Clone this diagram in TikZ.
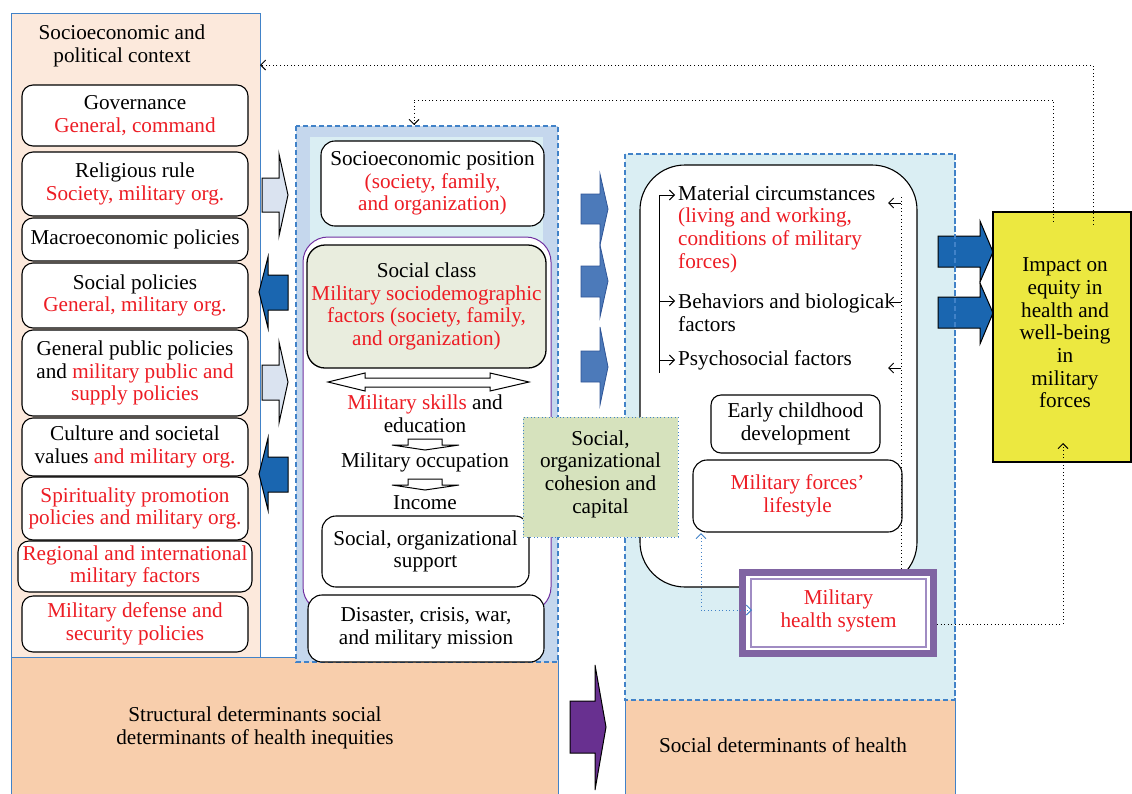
\documentclass[tikz,border=0pt]{standalone}
\usepackage{fontspec}
\setmainfont{Liberation Serif}
\usetikzlibrary{arrows.meta}
\definecolor{myred}{RGB}{237,28,36}
\definecolor{lpeach}{RGB}{252,233,220}
\definecolor{dpeach}{RGB}{248,206,172}
\definecolor{mblue}{RGB}{197,215,237}
\definecolor{lblue}{RGB}{218,238,243}
\definecolor{sgreen}{RGB}{233,237,222}
\definecolor{cgreen}{RGB}{214,226,189}
\definecolor{yel}{RGB}{236,232,64}
\definecolor{dblue}{RGB}{26,102,176}
\definecolor{marrow}{RGB}{76,122,186}
\definecolor{marrowb}{RGB}{47,85,151}
\definecolor{larrow}{RGB}{218,227,240}
\definecolor{parrow}{RGB}{104,48,144}
\definecolor{hpurp}{RGB}{128,100,162}
\definecolor{hpurpb}{RGB}{160,140,195}
\definecolor{pblue}{RGB}{65,130,200}
\definecolor{purpl}{RGB}{112,48,160}
\begin{document}
\begin{tikzpicture}[x=1pt,y=-1pt,
  font=\fontsize{21.2}{22.7}\selectfont,
  rbox/.style={draw=black, line width=1.1pt, rounded corners=11pt, fill=white, align=center, inner sep=0pt},
  tx/.style={align=center, inner sep=0pt},
  dotc/.style={line width=0.9pt, dash pattern=on 1pt off 2.6pt},
  tip/.style={-{Straight Barb[length=5pt,width=10pt]}},
  tipboth/.style={{Straight Barb[length=5pt,width=10pt]}-{Straight Barb[length=5pt,width=10pt]}},
  blk/.style={draw=black, line width=1pt, line join=miter},
  dpanel/.style={draw=pblue, line width=1.1pt, dash pattern=on 5pt off 3pt},
  rd/.style={text=myred}
]
\useasboundingbox (0,0) rectangle (1132,793);

% ---------- left panel ----------
\draw[draw=pblue, fill=lpeach, line width=0.9pt] (11,13) rectangle (260,657);
\node[tx] (ctx) at (122,46) {Socioeconomic and\\political context};
\draw[draw=pblue, fill=dpeach, line width=0.9pt] (11,657) rectangle (558,794);
\node[tx] (struct) at (255,728) {Structural determinants social\\determinants of health inequities};

\node[rbox, minimum width=226, minimum height=61] (gov) at (135,115.5) {Governance\\\textcolor{myred}{General, command}};
\node[rbox, minimum width=226, minimum height=64] (rel) at (135,184) {Religious rule\\\textcolor{myred}{Society, military org.}};
\node[rbox, minimum width=226, minimum height=43] (mac) at (135,239.5) {Macroeconomic policies};
\node[rbox, minimum width=226, minimum height=65] (socp) at (135,295.5) {Social policies\\\textcolor{myred}{General, military org.}};
\node[rbox, minimum width=226, minimum height=86] (gpp) at (135,373) {General public policies\\and \textcolor{myred}{military public and}\\\textcolor{myred}{supply policies}};
\node[rbox, minimum width=226, minimum height=58] (cul) at (135,447) {Culture and societal\\values \textcolor{myred}{and military org.}};
\node[rbox, minimum width=226, minimum height=63] (spi) at (135,508.5) {\textcolor{myred}{Spirituality promotion}\\\textcolor{myred}{policies and military org.}};
\node[rbox, minimum width=234, minimum height=51] (reg) at (135,566.5) {\textcolor{myred}{Regional and international}\\\textcolor{myred}{military factors}};
\node[rbox, minimum width=226, minimum height=56] (def) at (135,624) {\textcolor{myred}{Military defense and}\\\textcolor{myred}{security policies}};

% ---------- arrows left <-> middle ----------
\draw[blk, fill=larrow] (262,178) -- (279,178) -- (279,154) -- (288,195) -- (279,236) -- (279,212) -- (262,212) -- cycle;
\draw[blk, fill=dblue] (288,275) -- (268,275) -- (268,257) -- (259,292) -- (268,328) -- (268,310) -- (288,310) -- cycle;
\draw[blk, fill=larrow] (262,365) -- (279,365) -- (279,342) -- (288,382) -- (279,423) -- (279,400) -- (262,400) -- cycle;
\draw[blk, fill=dblue] (288,457) -- (268,457) -- (268,438) -- (259,474) -- (268,510) -- (268,492) -- (288,492) -- cycle;

% ---------- middle panel ----------
\draw[dpanel, fill=mblue] (296,126) rectangle (558,662);
\fill[lblue] (310,137) rectangle (543,245);
\node[rbox, minimum width=223, minimum height=85, rounded corners=14pt] (sep) at (432.5,183.5) {Socioeconomic position\\\textcolor{myred}{(society, family,}\\\textcolor{myred}{and organization)}};
\draw[draw=purpl, fill=white, line width=1pt, rounded corners=25pt] (303,237) rectangle (551,612);
\node[rbox, fill=sgreen, rounded corners=18pt, minimum width=239, minimum height=123, line width=1.3pt] (scls) at (426.5,306.5) {Social class\\\textcolor{myred}{Military sociodemographic}\\\textcolor{myred}{factors (society, family,}\\\textcolor{myred}{and organization)}};
\draw[blk, fill=white] (328,382) -- (365,373) -- (365,378) -- (490,378) -- (490,373) -- (529,382) -- (490,391) -- (490,387) -- (365,387) -- (365,391) -- cycle;
\node[tx] (skills) at (425,414) {\textcolor{myred}{Military skills} and\\education};
\draw[blk, fill=white] (408,439) -- (442,439) -- (442,445) -- (459,445) -- (425,450) -- (392,445) -- (408,445) -- cycle;
\node[tx] (occ) at (425,462) {Military occupation};
\draw[blk, fill=white] (408,479) -- (442,479) -- (442,485) -- (459,485) -- (425,490) -- (392,485) -- (408,485) -- cycle;
\node[tx] (inc) at (425,503) {Income};
\node[rbox, minimum width=207, minimum height=71, rounded corners=14pt] (sup) at (425.5,551.5) {Social, organizational\\support};
\node[rbox, minimum width=236, minimum height=67, rounded corners=14pt] (dis) at (426,628.5) {Disaster, crisis, war,\\and military mission};

% ---------- arrows middle -> right ----------
\draw[draw=marrowb, line width=0.8pt, fill=marrow] (581,194) -- (600,194) -- (600,174) -- (608,209) -- (600,245) -- (600,224) -- (581,224) -- cycle;
\draw[draw=marrowb, line width=0.8pt, fill=marrow] (581,266) -- (600,266) -- (600,245) -- (608,281) -- (600,317) -- (600,297) -- (581,297) -- cycle;
\draw[draw=marrowb, line width=0.8pt, fill=marrow] (581,351) -- (600,351) -- (600,327) -- (608,367) -- (600,405) -- (600,382) -- (581,382) -- cycle;
\draw[blk, fill=parrow] (570,701) -- (595,701) -- (595,665) -- (606,727) -- (595,790) -- (595,753) -- (570,753) -- cycle;

% ---------- right panel ----------
\fill[dpeach] (625,700) rectangle (955,794);
\draw[draw=pblue, line width=0.9pt] (625,700) -- (625,794) (955,700) -- (955,794);
\draw[dpanel, fill=lblue] (625,154) rectangle (955,700);
\node[tx] (sdh) at (783,745) {Social determinants of health};
\draw[fill=white, line width=1.1pt, rounded corners=45pt] (640,165) rectangle (917,587);

\node[tx, align=left, anchor=west] (mat) at (678,229) {Material circumstances\\\textcolor{myred}{(living and working,}\\\textcolor{myred}{conditions of military}\\\textcolor{myred}{forces)}};
\node[tx, align=left, anchor=west] (beh) at (678,312.5) {Behaviors and biological\\factors};
\node[tx, anchor=west] (psy) at (678,360) {Psychosocial factors};
\coordinate (b1) at (659,195);
\coordinate (b2) at (659,301);
\coordinate (b3) at (659,360);
\coordinate (b4) at (659,373);
\draw[line width=1pt] (b1) -- (b4);
\draw[line width=0.9pt, tip] (b1) -- (675,195);
\draw[line width=0.9pt, tip] (b2) -- (675,301);
\draw[line width=0.9pt, tip] (b3) -- (675,360);

\node[rbox, minimum width=169, minimum height=58, rounded corners=10pt] (ecd) at (795.5,424) {Early childhood\\development};
\node[rbox, minimum width=209, minimum height=72, rounded corners=14pt] (life) at (797.5,496) {\textcolor{myred}{Military forces’}\\\textcolor{myred}{lifestyle}};

\node[draw=hpurp, line width=7pt, fill=white, minimum width=191, minimum height=81, inner sep=0pt] (mhs) at (838,613) {};
\draw[draw=hpurpb, line width=1.2pt] (751,579) rectangle (926,647);
\node[tx] (mhst) at (838.5,611) {\textcolor{myred}{Military}\\\textcolor{myred}{health system}};

% dotted feedback inside right panel
\coordinate (v1) at (901,197);
\coordinate (v2) at (901,569);
\draw[dotc] (v1) -- (v2);
\draw[line width=0.9pt, tip] (901,203) -- (888,203);
\draw[line width=0.9pt, tip] (901,302) -- (888,302);
\draw[line width=0.9pt, tip] (901,368) -- (888,368);
\coordinate (lf) at (701,533);
\coordinate (hs) at (752,610);
\draw[dotc, draw=pblue, tipboth] (lf) -- (701,610) -- (hs);

% cohesion box
\node[draw=pblue, dotc, fill=cgreen, minimum width=155, minimum height=120, inner sep=0pt] (cohb) at (600.5,477) {};
\node[tx] (coh) at (600.5,474) {Social,\\organizational\\cohesion and\\capital};

% big arrows to impact
\draw[blk, fill=dblue] (938,236) -- (980,236) -- (980,221) -- (993,252) -- (980,282) -- (980,267) -- (938,267) -- cycle;
\draw[blk, fill=dblue] (938,297) -- (980,297) -- (980,283) -- (993,313) -- (980,344) -- (980,328) -- (938,328) -- cycle;
\draw[dpanel] (955,154) -- (955,700);

% impact box
\node[draw=black, fill=yel, line width=1.1pt, minimum width=138, minimum height=250, inner sep=0pt] (impb) at (1062,337) {};
\node[tx] (imp) at (1065,333) {Impact on\\equity in\\health and\\well-being\\in\\military\\forces};

% top feedback loops
\coordinate (i1) at (1093,225);
\coordinate (i2) at (1053,222);
\coordinate (lp) at (260,65);
\coordinate (mp) at (414,125);
\draw[dotc, tip] (i1) |- (lp);
\draw[dotc, tip] (i2) |- (414,100) -- (mp);
\coordinate (hr) at (937,624);
\coordinate (ib) at (1063,443);
\draw[dotc, tip] (hr) -| (ib);
\end{tikzpicture}
\end{document}
